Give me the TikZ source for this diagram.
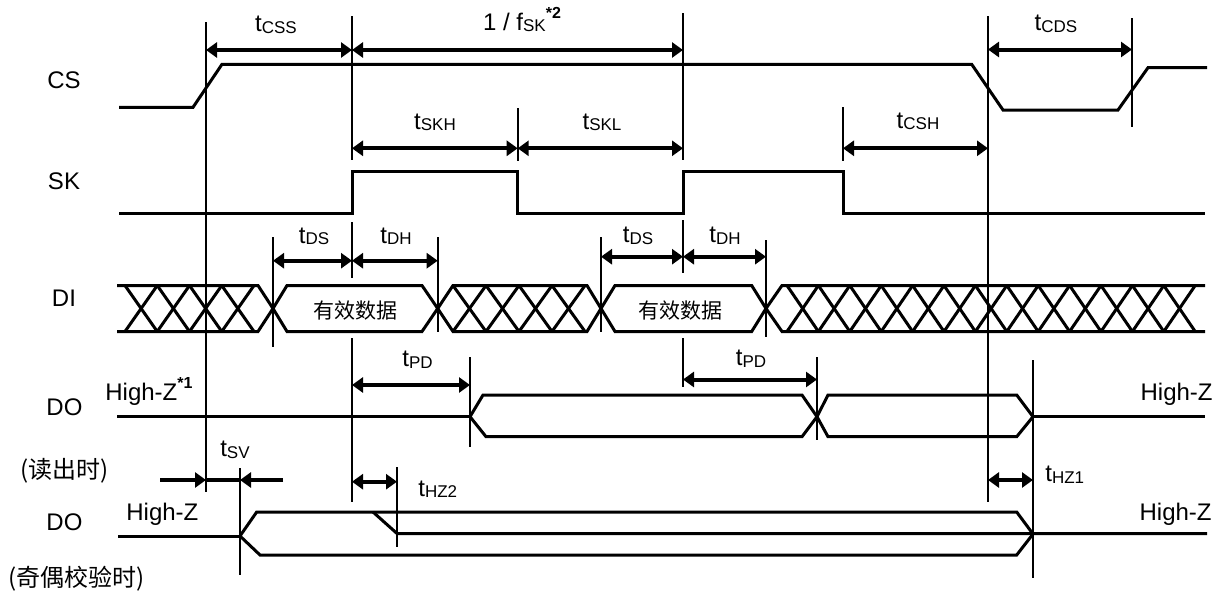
\documentclass[tikz,border=0pt]{standalone}
\usepackage{fontspec}
\setmainfont{Liberation Sans}
\newfontfamily\cjk{Noto Sans CJK SC}
\usepackage{tikz}
\usetikzlibrary{arrows.meta}
\newcommand{\tlab}[1]{t\raisebox{-0.8pt}{\fontsize{8.5}{9}\selectfont #1}}
\newcommand{\note}[1]{\raisebox{5.8pt}{\fontsize{8}{9}\selectfont\bfseries *#1}}

\begin{document}
\begin{tikzpicture}[x=0.5pt, y=-0.5pt, font=\fontsize{12}{14}\selectfont,
  sig/.style={line width=1.5pt},
  tick/.style={line width=1.2pt},
  dim/.style={line width=2pt, {Triangle[length=5.5pt,width=7.5pt]}-{Triangle[length=5.5pt,width=7.5pt]}},
  half/.style={line width=2pt, -{Triangle[length=5.5pt,width=7.5pt]}},
  lab/.style={anchor=base, inner sep=0pt}]
\useasboundingbox (0,0) rectangle (1223,595);

\node[lab] (cs) at (64,88.3) {CS};
\node[lab] (sk) at (64,189.3) {SK};
\node[lab] (di) at (64,306) {DI};
\node[lab] (do1) at (64.5,415) {DO};
\node[lab] (do2) at (64.5,530) {DO};
\node[font=\cjk\fontsize{12}{14}\selectfont, inner sep=0pt] (rd) at (65,471) {(读出时)};
\node[font=\cjk\fontsize{12}{14}\selectfont, inner sep=0pt] (par) at (77,579) {(奇偶校验时)};

\draw[sig] (119,107.3) -- (193,107.3) -- (222,64.3) -- (971.7,64.3) -- (1003,110) -- (1118,110) -- (1148,67.7) -- (1207,67.7);
\draw[sig] (119,213.3) -- (352,213.3) -- (352,171) -- (517.7,171) -- (517.7,213.3) -- (683,213.3) -- (683,171) -- (843,171) -- (843,213.3) -- (1205,213.3);

\draw[tick] (206,22) -- (206,491.7);
\draw[tick] (352,16) -- (352,160);
\draw[tick] (352,222) -- (352,278);
\draw[tick] (352,338) -- (352,502);
\draw[tick] (683,13) -- (683,160);
\draw[tick] (683,220) -- (683,273);
\draw[tick] (683,338) -- (683,387);
\draw[tick] (517.7,108) -- (517.7,161);
\draw[tick] (843,107) -- (843,161);
\draw[tick] (988,16) -- (988,502);
\draw[tick] (1132,18) -- (1132,127);
\draw[tick] (273,237) -- (273,347);
\draw[tick] (437.7,237) -- (437.7,332);
\draw[tick] (601,237) -- (601,332);
\draw[tick] (766,240) -- (766,337);
\draw[tick] (470,357) -- (470,447);
\draw[tick] (817,357) -- (817,440);
\draw[tick] (1033,360) -- (1033,578);
\draw[tick] (240,468) -- (240,575);
\draw[tick] (397,467) -- (397,547);

\draw[dim] (206,50) -- (352,50);
\draw[dim] (352,50) -- (683,50);
\draw[dim] (988,49.5) -- (1132,49.5);
\draw[dim] (352,148.3) -- (517.7,148.3);
\draw[dim] (517.7,148.3) -- (683,148.3);
\draw[dim] (843,148.3) -- (988,148.3);
\draw[dim] (273,260.7) -- (352,260.7);
\draw[dim] (352,260.7) -- (437.7,260.7);
\draw[dim] (601,256.7) -- (683,256.7);
\draw[dim] (683,256.7) -- (766,256.7);
\draw[dim] (352,385) -- (470,385);
\draw[dim] (683,379.5) -- (817,379.5);
\draw[half] (160,480) -- (206,480);
\draw[line width=2pt] (206,480) -- (240,480);
\draw[half] (283,480) -- (240,480);
\draw[dim] (352,481.7) -- (397,481.7);
\draw[dim] (988,480) -- (1033,480);

\node[lab] (tcss) at (276,31.7) {\tlab{CSS}};
\node[lab] (fsk) at (522,30) {1 / f\raisebox{-0.8pt}{\fontsize{8.5}{9}\selectfont SK}\note{2}};
\node[lab] (tcds) at (1056,30.7) {\tlab{CDS}};
\node[lab] (tskh) at (435,129) {\tlab{SKH}};
\node[lab] (tskl) at (602,129) {\tlab{SKL}};
\node[lab] (tcsh) at (918,128.3) {\tlab{CSH}};
\node[lab] (tds1) at (314,243) {\tlab{DS}};
\node[lab] (tdh1) at (396,243) {\tlab{DH}};
\node[lab] (tds2) at (638,242.7) {\tlab{DS}};
\node[lab] (tdh2) at (725,242.7) {\tlab{DH}};
\node[lab] (tpd1) at (417.5,366.5) {\tlab{PD}};
\node[lab] (tpd2) at (751,365.5) {\tlab{PD}};
\node[lab] (tsv) at (235,456.7) {\tlab{SV}};
\node[lab, anchor=base west] (thz2) at (418,496) {\tlab{HZ2}};
\node[lab, anchor=base west] (thz1) at (1045,481.7) {\tlab{HZ1}};
\node[lab, anchor=base west] (hz1) at (105,400) {High-Z\note{1}};
\node[lab, anchor=base east] (hz2) at (1213,400) {High-Z};
\node[lab, anchor=base west] (hz3) at (126,520) {High-Z};
\node[lab, anchor=base east] (hz4) at (1212,520) {High-Z};

\draw[sig] (117,285.5) -- (258,285.5) -- (273,308.5) -- (258,331.5) -- (117,331.5);
\foreach \i in {0,...,3} {
  \draw[sig] ({125+32.25*\i},285.5) -- ({157.25+32.25*\i},331.5);
  \draw[sig] ({125+32.25*\i},331.5) -- ({157.25+32.25*\i},285.5);
}
\draw[sig] (273,308.5) -- (287,285.5) -- (422,285.5) -- (437.7,308.5) -- (422,331.5) -- (287,331.5) -- cycle;
\node[font=\cjk\fontsize{10.5}{12}\selectfont, inner sep=0pt] (d1) at (355,310.5) {有效数据};
\draw[sig] (587,285.5) -- (453,285.5) -- (437.7,308.5) -- (453,331.5) -- (587,331.5) -- (601,308.5) -- cycle;
\foreach \i in {0,...,3} {
  \draw[sig] ({453+33*\i},285.5) -- ({486+33*\i},331.5);
  \draw[sig] ({453+33*\i},331.5) -- ({486+33*\i},285.5);
}
\draw[sig] (601,308.5) -- (615,285.5) -- (751.7,285.5) -- (766,308.5) -- (751.7,331.5) -- (615,331.5) -- cycle;
\node[font=\cjk\fontsize{10.5}{12}\selectfont, inner sep=0pt] (d2) at (680,310.5) {有效数据};
\draw[sig] (1205,285.5) -- (782,285.5) -- (766,308.5) -- (782,331.5) -- (1205,331.5);
\foreach \i in {0,...,12} {
  \draw[sig] ({787+31.4*\i},285.5) -- ({818.4+31.4*\i},331.5);
  \draw[sig] ({787+31.4*\i},331.5) -- ({818.4+31.4*\i},285.5);
}

\draw[sig] (117,416.7) -- (470,416.7);
\draw[sig] (470,416.7) -- (483,395) -- (802,395) -- (817,416.7) -- (802,436.7) -- (486,436.7) -- cycle;
\draw[sig] (817,416.7) -- (828,395) -- (1016.7,395) -- (1033,416.7) -- (1016.7,436.7) -- (828,436.7) -- cycle;
\draw[sig] (1033,416.7) -- (1205,416.7);

\draw[sig] (118,536) -- (240,536);
\draw[sig] (240,536) -- (256.7,512) -- (1016.7,512) -- (1033,534) -- (1016.7,555) -- (260,555) -- cycle;
\draw[sig] (373,512) -- (397,533.5) -- (1207,533.5);
\end{tikzpicture}
\end{document}
